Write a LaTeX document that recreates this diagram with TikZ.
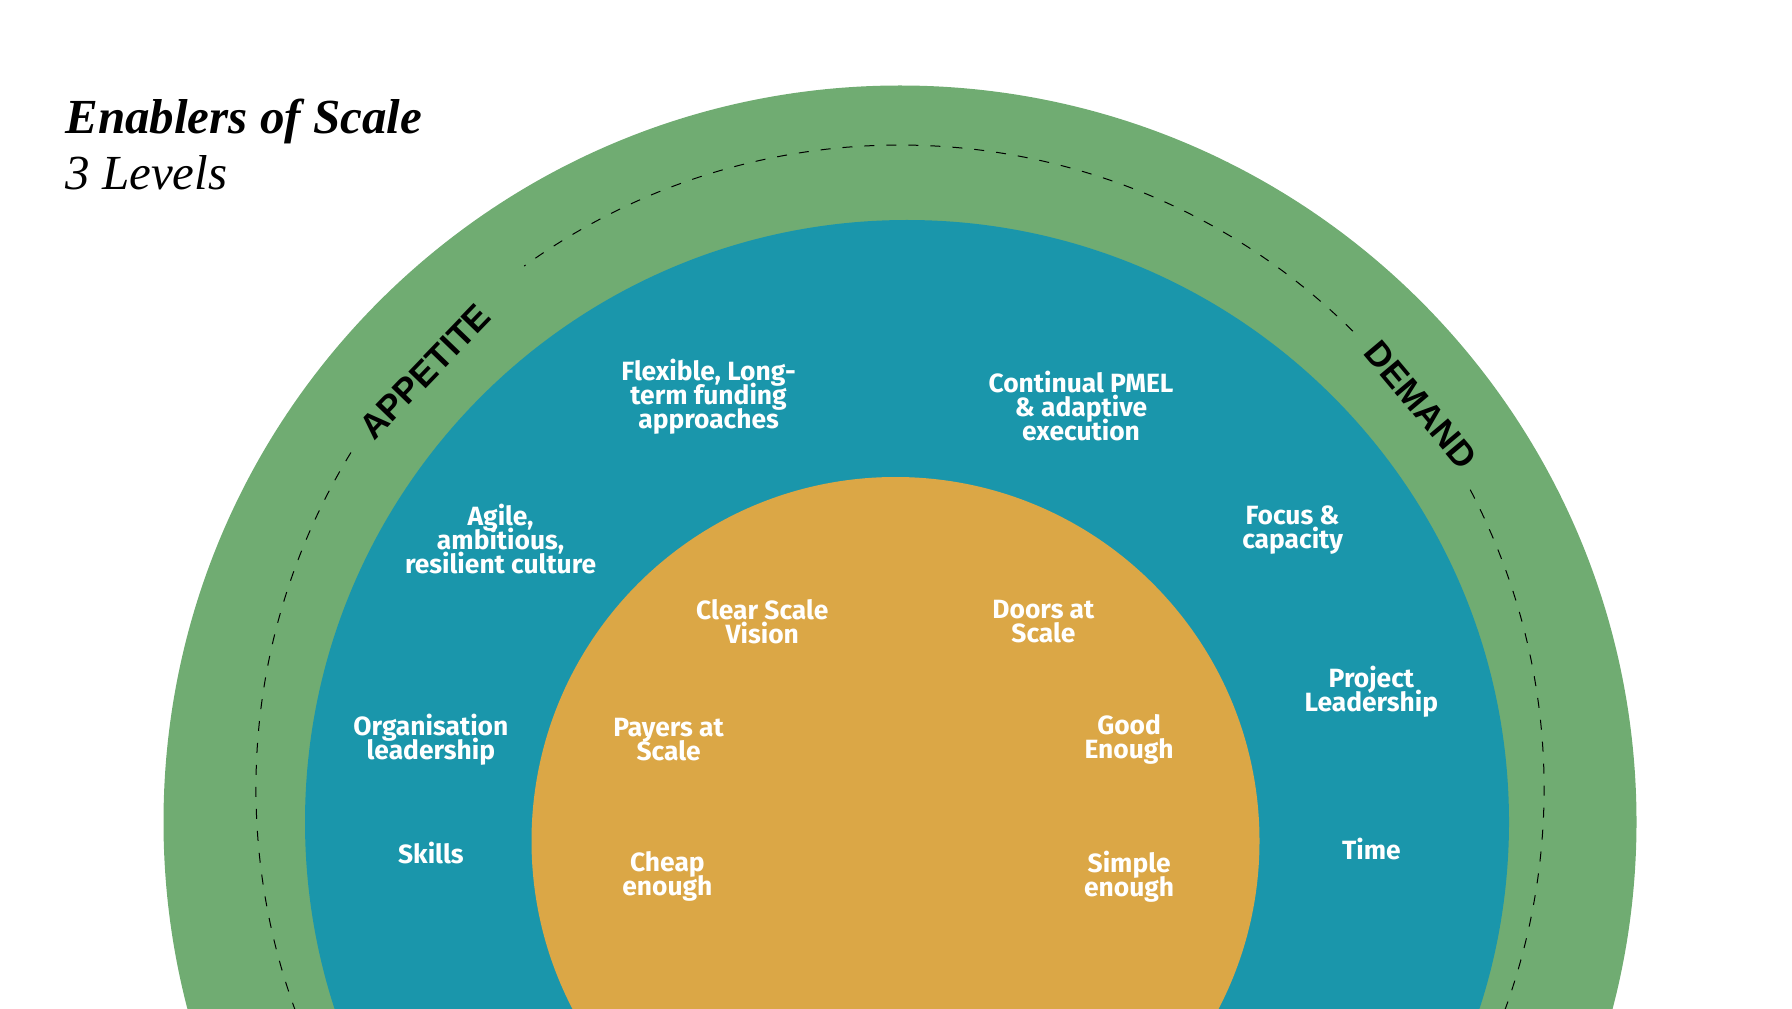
\documentclass[tikz,border=0pt]{standalone}
\usepackage{fontspec}
\setmainfont{Liberation Serif}
\newfontfamily\lblfont{Fira Sans}
\newfontfamily\ringfont{Liberation Sans}
\usetikzlibrary{positioning}
\definecolor{ringgreen}{HTML}{70AC72}
\definecolor{ringteal}{HTML}{1A96AB}
\definecolor{coreorange}{HTML}{DBA746}
\newcommand{\tightlines}{\lineskiplimit=-20pt\relax}
\tikzset{
  lbl/.style={text=white,align=center,inner sep=0pt,
              font=\lblfont\bfseries\fontsize{13.2}{12}\selectfont\tightlines},
  ringlbl/.style={text=black,inner sep=0pt,
              font=\ringfont\bfseries\fontsize{17.5}{20}\selectfont},
  guide/.style={draw=black,line width=0.5pt,dash pattern=on 5pt off 6pt},
}

\begin{document}
\begin{tikzpicture}[x=0.5pt,y=0.5pt]
\useasboundingbox (0,0) rectangle (1792,1008);
\clip (0,0) rectangle (1792,1008);
% rings
\fill[ringgreen] (900,186) circle (736.5);
\fill[ringteal] (907,186) circle (602);
\fill[coreorange] (895.5,167) circle (364);
% dashed guide, open at the two ring labels
\coordinate (gc) at (900,219);
\draw[guide] (gc) ++(45.3:644) arc[start angle=45.3,end angle=125.7,radius=644];
\draw[guide] (gc) ++(148.5:644) arc[start angle=148.5,end angle=270,radius=644];
\draw[guide] (gc) ++(27.7:644) arc[start angle=27.7,end angle=-90,radius=644];
% title
\node[anchor=base west,inner sep=0pt,font=\bfseries\itshape\fontsize{24.5}{28}\selectfont] (title) at (65,874.7) {Enablers of Scale};
\node[anchor=base west,inner sep=0pt,font=\itshape\fontsize{24.5}{28}\selectfont] (sub) at (65,818) {3 Levels};
% outer ring
\node[ringlbl,rotate=46] (appetite) at (425,636) {APPETITE};
\node[ringlbl,rotate=-50] (demand) at (1421,603) {DEMAND};
% middle ring
\node[lbl] (fund) at (708.6,611) {Flexible, Long-\\term funding\\approaches};
\node[lbl] (pmel) at (1081,602) {Continual PMEL\\\& adaptive\\execution};
\node[lbl] (agile) at (500.6,468.6) {Agile,\\ambitious,\\resilient culture};
\node[lbl] (focus) at (1292.6,477.7) {Focus \&\\capacity};
\node[lbl] (proj) at (1371.4,316.6) {Project\\Leadership};
\node[lbl] (org) at (430.9,268.6) {Organisation\\leadership};
\node[lbl] (skills) at (430.9,155.4) {Skills};
\node[lbl] (time) at (1371.4,158.9) {Time};
% core
\node[lbl] (vision) at (762.3,386.3) {Clear Scale\\Vision};
\node[lbl] (doors) at (1043.4,386.3) {Doors at\\Scale};
\node[lbl] (payers) at (668.6,268.6) {Payers at\\Scale};
\node[lbl] (good) at (1129.1,268.6) {Good\\Enough};
\node[lbl] (cheap) at (667.4,131.4) {Cheap\\enough};
\node[lbl] (simple) at (1129.1,131.4) {Simple\\enough};
\end{tikzpicture}
\end{document}
